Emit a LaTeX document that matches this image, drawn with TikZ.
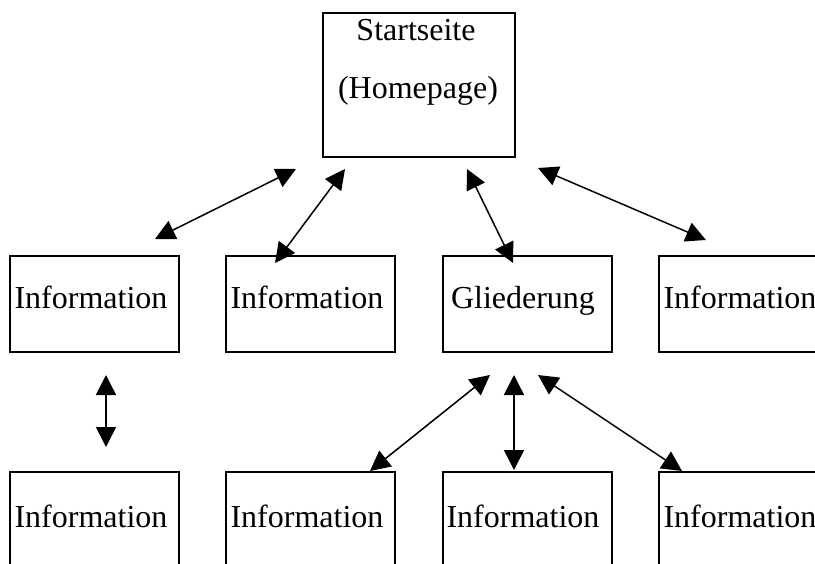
\documentclass[tikz,border=0pt]{standalone}
\usepackage{fontspec}
\setmainfont{Liberation Serif}
\usetikzlibrary{arrows.meta}
\begin{document}
\begin{tikzpicture}[x=1pt,y=-1pt,
  box/.style={draw, line width=1.6pt, minimum width=169pt, minimum height=96pt, inner sep=0pt, anchor=north west},
  lbl/.style={font=\fontsize{32}{38}\selectfont, inner sep=0pt, anchor=base},
  biarrow/.style={line width=1.5pt, {Triangle[length=20pt,width=20pt]}-{Triangle[length=20pt,width=20pt]}}
]
\useasboundingbox (0,0) rectangle (815,563);
\clip (0,0) rectangle (815,563);
% top box
\node[box, minimum width=192pt, minimum height=144pt] (home) at (322,12) {};
\node[lbl] (t1) at (416,40) {Startseite};
\node[lbl] (t2) at (418,98) {(Homepage)};
% row 2
\node[box] (b1) at (9,255) {};
\node[box] (b2) at (225,255) {};
\node[box] (b3) at (442,255) {};
\node[box] (b4) at (658,255) {};
\node[lbl] (l1) at (91,308) {Information};
\node[lbl] (l2) at (307,308) {Information};
\node[lbl] (l3) at (523,308) {Gliederung};
\node[lbl] (l4) at (740,308) {Information};
% row 3
\node[box] (c1) at (9,471) {};
\node[box] (c2) at (225,471) {};
\node[box] (c3) at (442,471) {};
\node[box] (c4) at (658,471) {};
\node[lbl] (m1) at (91,527) {Information};
\node[lbl] (m2) at (307,527) {Information};
\node[lbl] (m3) at (523,527) {Information};
\node[lbl] (m4) at (740,527) {Information};
% arrow end points
\coordinate (a1s) at (155,239); \coordinate (a1e) at (296,169);
\coordinate (a2s) at (275,263); \coordinate (a2e) at (345,169);
\coordinate (a3s) at (513,263); \coordinate (a3e) at (467,169);
\coordinate (a4s) at (706,240); \coordinate (a4e) at (538,168);
\coordinate (a5s) at (106,447); \coordinate (a5e) at (106,375);
\coordinate (a6s) at (370,471); \coordinate (a6e) at (490,375);
\coordinate (a7s) at (514,470); \coordinate (a7e) at (514,375);
\coordinate (a8s) at (682,471); \coordinate (a8e) at (538,375);
\draw[biarrow] (a1s) -- (a1e);
\draw[biarrow] (a2s) -- (a2e);
\draw[biarrow] (a3s) -- (a3e);
\draw[biarrow] (a4s) -- (a4e);
\draw[biarrow] (a5s) -- (a5e);
\draw[biarrow] (a6s) -- (a6e);
\draw[biarrow] (a7s) -- (a7e);
\draw[biarrow] (a8s) -- (a8e);
\end{tikzpicture}
\end{document}
